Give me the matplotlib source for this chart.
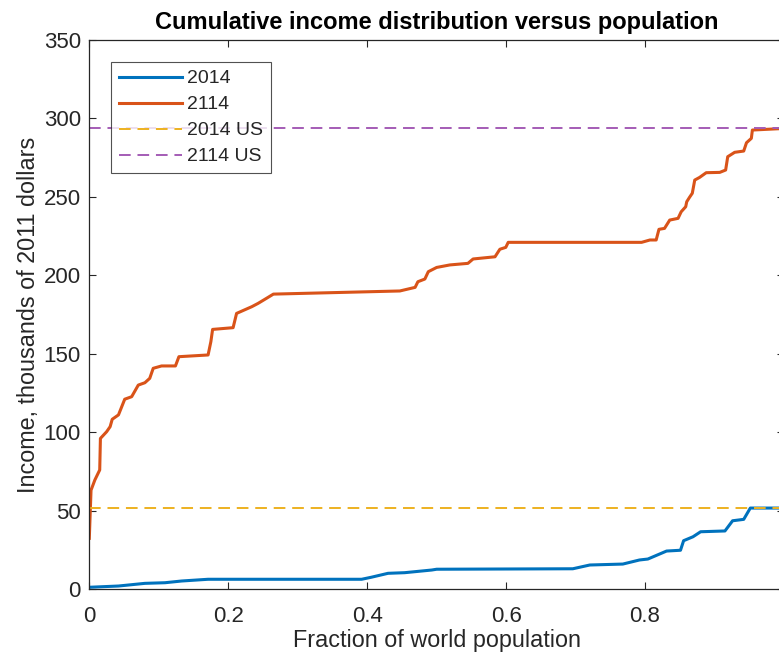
import matplotlib.pyplot as plt
import numpy as np

plt.rcParams['font.family'] = ['Liberation Sans', 'DejaVu Sans']

# Sorted per-capita income against cumulative population share
pop_2014 = [0.0, 0.042, 0.080, 0.109, 0.133, 0.171, 0.392, 0.406, 0.430, 0.454,
            0.493, 0.500, 0.696, 0.7205, 0.768, 0.792, 0.804, 0.831, 0.851,
            0.8555, 0.869, 0.880, 0.915, 0.926, 0.942, 0.9515, 1.0]
inc_2014 = [1.1, 1.9, 3.6, 4.0, 5.1, 6.2, 6.2, 7.5, 10.0, 10.4,
            12.1, 12.6, 12.9, 15.3, 15.9, 18.5, 19.1, 24.2, 24.7,
            30.8, 33.3, 36.5, 37.0, 43.5, 44.4, 51.6, 51.6]

pop_2114 = [0.0, 0.0025, 0.008, 0.015, 0.016, 0.025, 0.030, 0.033, 0.042, 0.051,
            0.061, 0.0705, 0.080, 0.087, 0.092, 0.104, 0.124, 0.129, 0.171,
            0.175, 0.1775, 0.207, 0.212, 0.234, 0.243, 0.255, 0.265, 0.447,
            0.469, 0.473, 0.483, 0.488, 0.500, 0.519, 0.545, 0.5525, 0.584,
            0.591, 0.5995, 0.603, 0.795, 0.807, 0.816, 0.820, 0.828, 0.8355,
            0.8475, 0.852, 0.8585, 0.860, 0.864, 0.868, 0.8715, 0.8785, 0.888,
            0.9075, 0.916, 0.919, 0.929, 0.942, 0.946, 0.953, 0.9545, 1.0]
inc_2114 = [32.3, 63.0, 69.5, 75.9, 96.0, 100.3, 103.5, 108.2, 111.0, 121.0,
            122.6, 130.0, 131.5, 134.3, 140.7, 142.2, 142.2, 148.1, 149.2,
            157.7, 165.5, 166.6, 175.7, 180.0, 182.1, 185.3, 188.0, 190.0,
            192.3, 195.9, 197.6, 202.3, 205.0, 206.6, 207.6, 210.4, 211.8,
            216.6, 217.8, 221.0, 221.0, 222.5, 222.5, 229.3, 229.9, 235.2,
            236.3, 240.5, 243.7, 246.9, 249.7, 252.3, 260.7, 262.4, 265.4,
            265.6, 267.1, 275.6, 278.4, 279.2, 284.5, 287.3, 292.6, 293.6]

us_2014 = 51.6
us_2114 = 293.8

x_ticks = [0, 0.2, 0.4, 0.6, 0.8, 1.0]
x_ticklabels = ['0', '0.2', '0.4', '0.6', '0.8', '']

W, H = 779, 656
fig = plt.figure(figsize=(W / 100, H / 100), dpi=100)
ax = fig.add_axes([89.3 / W, 1 - 589 / H, (784 - 89.3) / W, (589 - 40) / H])

ax.plot(pop_2014, inc_2014, color='#0072BD', lw=2.2, label='2014')
ax.plot(pop_2114, inc_2114, color='#D95319', lw=2.2, label='2114')
ax.axhline(us_2014, color='#EDB120', lw=1.4, ls=(0, (6, 3.5)), label='2014 US')
ax.axhline(us_2114, color='#A45CB5', lw=1.4, ls=(0, (6, 3.5)), label='2114 US')

ax.set_xlim(0, 1)
ax.set_ylim(0, 350)
ax.set_xticks(x_ticks)
ax.set_xticklabels(x_ticklabels)
ax.set_yticks(np.arange(0, 351, 50))

grey = '#262626'
for s in ax.spines.values():
    s.set_color(grey)
    s.set_linewidth(0.9)
ax.tick_params(direction='in', length=5, width=0.8, colors=grey,
               top=True, right=True, labelsize=16)
ax.tick_params(axis='x', pad=12)
ax.tick_params(axis='y', pad=6)

ax.set_title('Cumulative income distribution versus population',
             fontsize=17, fontweight='bold', pad=8)
ax.set_xlabel('Fraction of world population', fontsize=16.8, color=grey, labelpad=2)
ax.set_ylabel('Income, thousands of 2011 dollars', fontsize=16.8, color=grey, labelpad=3)

leg = ax.legend(loc='upper left', bbox_to_anchor=(111 / W, 1 - 62 / H),
                bbox_transform=fig.transFigure, fontsize=14, frameon=True,
                fancybox=False, handlelength=3.25, handletextpad=0.25,
                labelspacing=0.43, borderpad=0.4, borderaxespad=0)
leg.get_frame().set_edgecolor(grey)
leg.get_frame().set_linewidth(0.8)
for t in leg.get_texts():
    t.set_color(grey)

fig.savefig('out.png', dpi=100)
